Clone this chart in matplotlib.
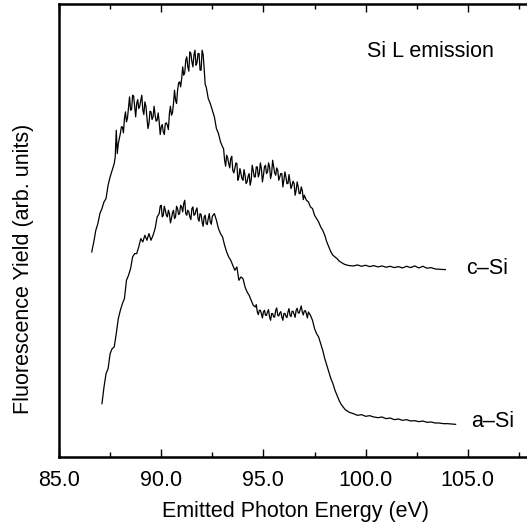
import matplotlib
matplotlib.use("Agg")
import matplotlib.pyplot as plt
import numpy as np
from matplotlib.ticker import MultipleLocator

plt.rcParams['font.family'] = ['Liberation Sans', 'DejaVu Sans']

# c-Si spectrum (energy in eV, yield in arb. units)
csi_energy = [86.6, 86.7, 86.8, 86.9, 87.0, 87.1, 87.2, 87.3, 87.4, 87.5,
              87.6, 87.7, 87.75, 87.8, 87.85, 87.9, 88.0, 88.1, 88.2, 88.3,
              88.4, 88.5, 88.6, 88.7, 88.8, 88.9, 89.0, 89.1, 89.2, 89.3,
              89.4, 89.5, 89.6, 89.7, 89.8, 89.9, 90.0, 90.1, 90.2, 90.3,
              90.4, 90.5, 90.6, 90.7, 90.8, 90.9, 91.0, 91.1, 91.2, 91.3,
              91.4, 91.5, 91.6, 91.7, 91.8, 91.9, 92.0, 92.1, 92.2, 92.3,
              92.4, 92.5, 92.6, 92.7, 92.8, 92.9, 93.0, 93.1, 93.2, 93.3,
              93.4, 93.5, 93.6, 93.7, 93.8, 93.9, 94.0, 94.1, 94.2, 94.3,
              94.4, 94.5, 94.6, 94.7, 94.8, 94.9, 95.0, 95.1, 95.2, 95.3,
              95.4, 95.5, 95.6, 95.7, 95.8, 95.9, 96.0, 96.1, 96.2, 96.3,
              96.4, 96.5, 96.6, 96.7, 96.8, 96.9, 97.0, 97.1, 97.2, 97.3,
              97.4, 97.5, 97.6, 97.7, 97.8, 97.9, 98.0, 98.1, 98.2, 98.3,
              98.4, 98.5, 98.6, 98.7, 98.8, 98.9, 99.0, 99.2, 99.4, 99.6,
              99.8, 100.0, 100.2, 100.4, 100.6, 100.8, 101.0, 101.2, 101.4, 101.6,
              101.8, 102.0, 102.2, 102.4, 102.6, 102.8, 103.0, 103.2, 103.4, 103.6,
              103.9]
csi_yield = [61.5, 64.5, 68.0, 70.0, 73.0, 74.5, 76.5, 77.5, 81.5, 84.0,
             86.0, 88.0, 90.0, 98.0, 91.0, 94.0, 97.0, 99.0, 101.5, 100.5,
             105.0, 104.0, 108.5, 105.0, 106.0, 104.5, 107.0, 104.0, 106.5, 102.0,
             100.0, 103.5, 102.0, 102.5, 101.0, 100.5, 99.0, 97.5, 100.0, 99.5,
             103.0, 102.5, 106.0, 107.0, 110.0, 112.5, 113.5, 114.5, 119.0, 117.0,
             121.5, 118.5, 120.5, 117.5, 121.0, 116.0, 122.0, 116.5, 111.0, 107.5,
             106.0, 104.0, 102.0, 98.5, 97.0, 94.5, 93.0, 89.0, 90.5, 88.0,
             89.5, 86.0, 86.5, 88.0, 84.0, 85.0, 83.0, 84.5, 82.5, 85.0,
             83.0, 86.0, 84.0, 87.0, 85.0, 86.5, 84.5, 87.5, 85.5, 87.0,
             85.0, 87.0, 84.5, 86.0, 84.0, 85.0, 83.0, 84.0, 82.0, 82.5,
             81.5, 82.0, 80.0, 81.0, 79.0, 80.0, 78.5, 77.0, 76.5, 75.0,
             74.5, 72.5, 71.5, 70.5, 69.0, 68.0, 66.5, 64.5, 63.0, 61.5,
             60.5, 60.0, 59.5, 58.8, 58.4, 58.0, 57.7, 57.4, 57.3, 57.6,
             57.2, 57.5, 57.1, 57.4, 57.0, 57.3, 56.9, 57.2, 56.8, 57.1,
             56.7, 57.2, 56.8, 57.3, 56.7, 57.2, 56.6, 56.8, 56.4, 56.3,
             56.2]

# extra c-Si samples in the noisy parts of the trace
csi_energy_fine = [88.05, 88.15, 88.25, 88.35, 88.45, 88.55, 88.65, 88.75, 88.85, 88.95,
                   89.05, 89.15, 89.25, 89.35, 89.45, 89.55, 89.65, 89.75, 89.85, 89.95,
                   90.05, 90.15, 90.25, 90.35, 90.45, 90.55, 90.65, 90.75, 90.85, 90.95,
                   91.05, 91.15, 91.25, 91.35, 91.45, 91.55, 91.65, 91.75, 91.85, 91.95,
                   92.05, 92.15,
                   93.05, 93.15, 93.25, 93.35, 93.45, 93.55, 93.65, 93.75, 93.85, 93.95,
                   94.05, 94.15, 94.25, 94.35, 94.45, 94.55, 94.65, 94.75, 94.85, 94.95,
                   95.05, 95.15, 95.25, 95.35, 95.45, 95.55, 95.65, 95.75, 95.85, 95.95,
                   96.05, 96.15, 96.25, 96.35, 96.45, 96.55, 96.65, 96.75, 96.85, 96.95]
csi_yield_fine = [99.0, 97.2, 103.5, 101.7, 108.0, 104.2, 108.2, 102.0, 107.2, 105.2,
                  108.5, 102.7, 105.2, 98.5, 103.7, 101.2, 105.2, 100.7, 103.2, 96.7,
                  99.7, 96.7, 100.2, 98.2, 105.2, 103.2, 110.0, 106.0, 112.2, 111.0,
                  117.0, 115.2, 120.0, 115.7, 121.0, 117.0, 122.0, 118.2, 121.0, 116.0,
                  120.7, 111.7,
                  92.5, 87.2, 89.7, 86.7, 90.2, 85.2, 88.2, 83.0, 86.5, 83.5,
                  86.2, 82.0, 84.2, 81.5, 87.5, 84.0, 87.0, 84.0, 88.2, 82.5,
                  87.0, 85.0, 88.2, 83.5, 89.0, 85.2, 86.7, 83.0, 85.0, 81.0,
                  85.5, 82.0, 84.7, 80.5, 82.7, 78.5, 82.5, 79.0, 81.0, 77.2]

# a-Si spectrum
asi_energy = [87.1, 87.2, 87.3, 87.4, 87.5, 87.6, 87.7, 87.8, 87.9, 88.0,
              88.1, 88.2, 88.3, 88.4, 88.5, 88.6, 88.7, 88.8, 88.9, 89.0,
              89.1, 89.2, 89.3, 89.4, 89.5, 89.6, 89.7, 89.8, 89.9, 90.0,
              90.1, 90.2, 90.3, 90.4, 90.5, 90.6, 90.7, 90.8, 90.9, 91.0,
              91.1, 91.2, 91.3, 91.4, 91.5, 91.6, 91.7, 91.8, 91.9, 92.0,
              92.1, 92.2, 92.3, 92.4, 92.5, 92.6, 92.7, 92.8, 92.9, 93.0,
              93.1, 93.2, 93.3, 93.4, 93.5, 93.6, 93.7, 93.8, 93.9, 94.0,
              94.1, 94.2, 94.3, 94.4, 94.5, 94.6, 94.7, 94.8, 94.9, 95.0,
              95.1, 95.2, 95.3, 95.4, 95.5, 95.6, 95.7, 95.8, 95.9, 96.0,
              96.1, 96.2, 96.3, 96.4, 96.5, 96.6, 96.7, 96.8, 96.9, 97.0,
              97.1, 97.2, 97.3, 97.4, 97.5, 97.6, 97.7, 97.8, 97.9, 98.0,
              98.1, 98.2, 98.3, 98.4, 98.5, 98.6, 98.7, 98.8, 98.9, 99.0,
              99.2, 99.4, 99.6, 99.8, 100.0, 100.2, 100.4, 100.6, 100.8, 101.0,
              101.2, 101.4, 101.6, 101.8, 102.0, 102.2, 102.4, 102.6, 102.8, 103.0,
              103.2, 103.4, 103.6, 103.8, 104.0, 104.2, 104.4]
asi_yield = [16.0, 21.0, 25.0, 26.5, 31.0, 32.5, 33.0, 37.0, 41.5, 44.0,
             46.0, 47.5, 53.0, 54.5, 56.5, 60.0, 61.0, 61.0, 63.0, 65.5,
             64.5, 66.5, 65.0, 67.0, 65.0, 66.5, 68.5, 72.0, 73.0, 75.5,
             72.5, 74.0, 72.0, 73.0, 71.5, 74.0, 72.0, 74.5, 73.0, 75.0,
             76.0, 73.0, 74.0, 72.0, 74.5, 72.5, 74.0, 71.5, 73.0, 70.5,
             72.0, 70.0, 71.5, 70.5, 72.2, 73.0, 71.0, 68.5, 67.0, 66.0,
             63.5, 61.5, 60.0, 59.0, 57.5, 56.0, 57.0, 53.0, 54.0, 53.5,
             51.0, 49.5, 48.5, 47.0, 45.5, 45.0, 43.5, 44.0, 43.0, 43.5,
             42.5, 43.5, 42.0, 43.0, 42.0, 44.0, 42.5, 43.2, 42.0, 43.0,
             42.2, 43.5, 42.5, 43.7, 42.8, 44.0, 43.2, 44.2, 43.5, 43.8,
             43.0, 43.5, 42.5, 41.0, 38.5, 37.0, 36.0, 34.0, 32.0, 29.5,
             27.5, 25.5, 23.5, 22.0, 20.0, 18.5, 17.0, 15.8, 15.0, 14.2,
             13.4, 13.0, 12.5, 12.7, 12.2, 12.4, 12.0, 11.8, 12.0, 11.5,
             11.7, 11.2, 11.4, 11.0, 11.2, 10.8, 10.9, 10.6, 10.8, 10.4,
             10.5, 10.2, 10.2, 10.0, 10.0, 9.9, 9.8]

asi_energy_fine = [89.95, 90.05, 90.15, 90.25, 90.35, 90.45, 90.55, 90.65, 90.75, 90.85,
                   90.95, 91.05, 91.15, 91.25, 91.35, 91.45, 91.55, 91.65, 91.75, 91.85,
                   91.95, 92.05, 92.15, 92.25, 92.35, 92.45,
                   94.65, 94.75, 94.85, 94.95, 95.05, 95.15, 95.25, 95.35, 95.45, 95.55,
                   95.65, 95.75, 95.85, 95.95, 96.05, 96.15, 96.25, 96.35, 96.45, 96.55,
                   96.65, 96.75, 96.85, 96.95, 97.05, 97.15]
asi_yield_fine = [75.2, 72.0, 75.2, 72.5, 74.0, 70.2, 73.2, 71.5, 75.2, 72.7,
                  75.5, 73.5, 77.0, 72.5, 73.5, 71.2, 75.0, 72.7, 74.7, 70.7,
                  72.7, 69.2, 72.5, 69.7, 73.0, 69.8,
                  45.7, 42.7, 44.0, 41.7, 44.0, 42.5, 44.2, 41.0, 43.0, 42.0,
                  44.7, 42.3, 43.6, 41.0, 43.1, 41.8, 44.5, 42.1, 43.7, 41.9,
                  44.6, 43.2, 45.3, 42.6, 43.9, 41.7]


def merged(e1, y1, e2, y2):
    e = np.array(e1 + e2)
    y = np.array(y1 + y2)
    order = np.argsort(e)
    return e[order], y[order]


csi_e, csi_y = merged(csi_energy, csi_yield, csi_energy_fine, csi_yield_fine)
asi_e, asi_y = merged(asi_energy, asi_yield, asi_energy_fine, asi_yield_fine)

fig = plt.figure(figsize=(5.27, 5.22), dpi=100)
ax = fig.add_axes([0.112, 0.1245, 0.896, 0.8675])

ax.plot(csi_e, csi_y, color='black', lw=0.9)
ax.plot(asi_e, asi_y, color='black', lw=0.9)

ax.text(104.9, 56.5, 'c\u2013Si', fontsize=15.5, va='center', ha='left')
ax.text(105.15, 10.5, 'a\u2013Si', fontsize=15.5, va='center', ha='left')
ax.text(100.05, 121.5, 'Si L emission', fontsize=15.5, va='center', ha='left')

ax.set_xlim(85, 108.1)
ax.set_ylim(0, 135.8)
ax.set_xticks([85, 90, 95, 100, 105])
ax.xaxis.set_minor_locator(MultipleLocator(2.5))
ax.xaxis.set_major_formatter(plt.FormatStrFormatter('%.1f'))
ax.set_yticks([])
ax.tick_params(axis='x', which='both', direction='in', top=True, bottom=True,
               width=1.0, labelsize=15.5, pad=9)
ax.tick_params(axis='x', which='major', length=6)
ax.tick_params(axis='x', which='minor', length=3.5)
for s in ax.spines.values():
    s.set_linewidth(1.8)

ax.set_xlabel('Emitted Photon Energy (eV)', fontsize=15.5, labelpad=7.5)
fig.text(23.5 / 527, 1 - 269 / 522, 'Fluorescence Yield (arb. units)',
         fontsize=15.5, rotation=90, ha='center', va='center')

fig.savefig('out.png', dpi=100)
